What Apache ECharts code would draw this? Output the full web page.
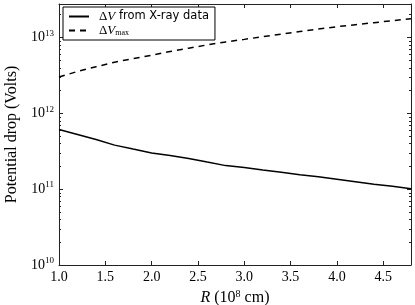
<!DOCTYPE html>
<html><head><meta charset="utf-8">
<script src="https://cdn.jsdelivr.net/npm/echarts@6/dist/echarts.min.js"></script>
<style>html,body{margin:0;padding:0;background:#fff}#c{width:415px;height:305px}</style>
</head><body><div id="c"></div>
<script>
const R = [1.0,1.2,1.4,1.6,1.8,2.0,2.2,2.4,2.6,2.8,3.0,3.2,3.4,3.6,3.8,4.0,4.2,4.4,4.6,4.8];
const dV = [6.1e11,5.25e11,4.5e11,3.8e11,3.37e11,2.99e11,2.77e11,2.53e11,2.27e11,2.04e11,1.92e11,1.78e11,1.67e11,1.55e11,1.46e11,1.35e11,1.25e11,1.16e11,1.09e11,1.01e11];
const dVmax = [3.0e12,3.55e12,4.1e12,4.7e12,5.25e12,5.8e12,6.5e12,7.2e12,7.95e12,8.7e12,9.4e12,1.02e13,1.1e13,1.19e13,1.29e13,1.38e13,1.47e13,1.56e13,1.66e13,1.76e13];
const xTicks = [1.0,1.5,2.0,2.5,3.0,3.5,4.0,4.5];
const yDecades = [1e10,1e11,1e12,1e13];
const minorMult = [2,3,4,5,6,7,8,9];
const xMin = 1.0, xMax = 4.8, yMin = 1e10, yMax = 2.75e13;

const minorVals = [];
yDecades.forEach(d => minorMult.forEach(m => { const v = d*m; if (v < yMax) minorVals.push([xMin, v]); }));

const serif = 'Liberation Serif';
const C = '#000';
const chart = echarts.init(document.getElementById('c'), null, {renderer:'canvas'});
const isDecade = v => Math.abs(Math.log10(v) - Math.round(Math.log10(v))) < 1e-6;
const axisLine = {show:true, lineStyle:{color:'#222', width:1}};

chart.setOption({
  animation:false,
  grid:{left:59, right:4, top:4, bottom:40, containLabel:false, outerBoundsMode:'none'},
  legend:{
    left:63, top:7, orient:'vertical',
    backgroundColor:'#fff', borderColor:'#000', borderWidth:1, borderRadius:0,
    padding:[3,6,3,5], itemGap:1, itemWidth:20, itemHeight:10,
    itemStyle:{opacity:0, color:'transparent', borderColor:'transparent', borderWidth:0},
    data:['dV','dVmax'],
    formatter: n => n === 'dV'
      ? '{g|Δ}{v|V}{s| from X-ray data}'
      : '{g|Δ}{v|V}{sub|max}',
    textStyle:{
      color:'#000',
      rich:{
        g:{fontFamily:serif, fontSize:13, padding:[0,0,0,5]},
        v:{fontFamily:serif, fontSize:13, fontStyle:'italic'},
        s:{fontFamily:'DejaVu Sans', fontSize:11.5},
        sub:{fontFamily:serif, fontSize:8, padding:[5,0,0,0]}
      }
    }
  },
  xAxis:[{
    type:'value', min:xMin, max:xMax, interval:0.5, position:'bottom',
    name:'{i|R} ({n|10}{sup|8} {n|cm)}', nameLocation:'middle', nameGap:16,
    nameTextStyle:{color:'#000', fontFamily:serif, fontSize:16,
      rich:{i:{fontFamily:serif, fontSize:16, fontStyle:'italic'}, n:{fontFamily:serif, fontSize:16}, sup:{fontFamily:serif, fontSize:10, padding:[0,0,8,0]}}},
    axisLine:axisLine,
    axisTick:{show:true, inside:true, length:4, lineStyle:{color:'#222'}},
    axisLabel:{color:'#000', fontFamily:serif, fontSize:14, margin:5, showMaxLabel:false,
      formatter: v => xTicks.some(t => Math.abs(t - v) < 1e-9) ? v.toFixed(1) : ''},
    splitLine:{show:false}
  },{
    type:'value', min:xMin, max:xMax, interval:0.5, position:'top',
    axisLine:axisLine,
    axisTick:{show:true, inside:true, length:4, lineStyle:{color:'#222'}},
    axisLabel:{show:false}, splitLine:{show:false}
  }],
  yAxis:[{
    type:'log', logBase:10, min:yMin, max:yMax, position:'left',
    name:'Potential drop (Volts)', nameLocation:'middle', nameGap:37, nameRotate:90,
    nameTextStyle:{color:'#000', fontFamily:serif, fontSize:16},
    axisLine:axisLine,
    axisTick:{show:true, inside:true, length:4, lineStyle:{color:'#222'}},
    axisLabel:{color:'#000', margin:5,
      formatter: v => isDecade(v) ? '{b|10}{sup|' + Math.round(Math.log10(v)) + '}' : '',
      rich:{b:{fontFamily:serif, fontSize:14}, sup:{fontFamily:serif, fontSize:9, padding:[0,0,8,0]}}},
    splitLine:{show:false}
  },{
    type:'log', logBase:10, min:yMin, max:yMax, position:'right',
    axisLine:axisLine,
    axisTick:{show:true, inside:true, length:4, lineStyle:{color:'#222'}},
    axisLabel:{show:false}, splitLine:{show:false}
  }],
  series:[
    {name:'dV', type:'line', xAxisIndex:0, yAxisIndex:0, symbol:'none', smooth:false,
     lineStyle:{color:C, width:1.5, type:'solid'}, itemStyle:{color:C},
     data:R.map((r,i)=>[r,dV[i]])},
    {name:'dVmax', type:'line', xAxisIndex:0, yAxisIndex:0, symbol:'none', smooth:false,
     lineStyle:{color:C, width:1.5, type:[6,5]}, itemStyle:{color:C},
     data:R.map((r,i)=>[r,dVmax[i]])},
    {name:'minor', type:'custom', xAxisIndex:0, yAxisIndex:0, silent:true,
     data:minorVals,
     renderItem:(params, api) => {
       const p = api.coord([api.value(0), api.value(1)]);
       const cs = params.coordSys;
       const st = {stroke:'#222', lineWidth:1};
       return {type:'group', children:[
         {type:'line', shape:{x1:cs.x, y1:Math.round(p[1])+0.5, x2:cs.x+2, y2:Math.round(p[1])+0.5}, style:st},
         {type:'line', shape:{x1:cs.x+cs.width-2, y1:Math.round(p[1])+0.5, x2:cs.x+cs.width, y2:Math.round(p[1])+0.5}, style:st}
       ]};
     }}
  ]
});
</script></body></html>
